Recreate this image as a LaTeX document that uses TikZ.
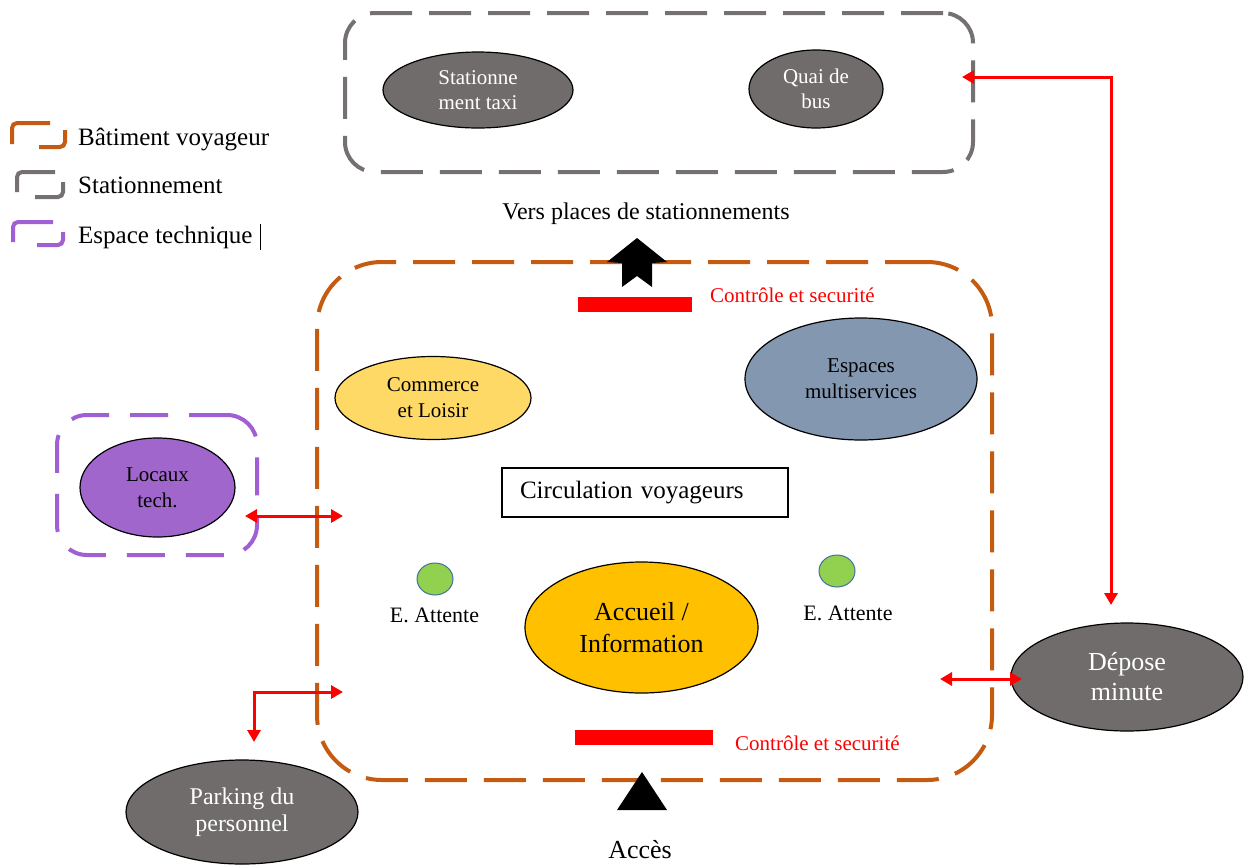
\documentclass[tikz,border=0pt]{standalone}
\usepackage{fontspec}
\setmainfont{Liberation Serif}
\usetikzlibrary{arrows.meta,shapes.geometric}

\definecolor{buildorange}{HTML}{C55A11}
\definecolor{parkgray}{HTML}{767171}
\definecolor{techpurple}{HTML}{A05FD2}
\definecolor{ovalgray}{HTML}{716C6C}
\definecolor{commerceyellow}{HTML}{FFD966}
\definecolor{serviceblue}{HTML}{8497B0}
\definecolor{techfill}{HTML}{A066CC}
\definecolor{accueilgold}{HTML}{FFC000}
\definecolor{waitgreen}{HTML}{92D050}
\definecolor{waitedge}{HTML}{41719C}

\newcommand{\setfs}[2]{\fontsize{#1}{#2}\selectfont}

\begin{document}
\begin{tikzpicture}[x=1pt,y=-1pt,
  zonebox/.style={draw, line width=4pt, rounded corners=#1, inner sep=0pt,
    dash pattern=on 42pt off 17pt},
  legendmark/.style={line width=4pt, rounded corners=5pt},
  oval/.style={ellipse, draw=black, line width=1.2pt, inner sep=0pt, align=center},
  darkoval/.style={oval, fill=ovalgray, text=white},
  waitspot/.style={ellipse, draw=waitedge, line width=1pt, fill=waitgreen,
    minimum width=36pt, minimum height=32pt, inner sep=0pt},
  link/.style={red, line width=3pt,
    {Triangle[length=12pt,width=13pt]}-{Triangle[length=12pt,width=13pt]}},
  redtext/.style={text=red, font=\setfs{21}{25}, inner sep=0pt},
  plain/.style={font=\setfs{25}{30}, inner sep=0pt}
]
\fill[white] (0,0) rectangle (1244,865);
\useasboundingbox (0,0) rectangle (1244,865);

% legend
\draw[legendmark, buildorange] (50,123) -- (12,123) -- (12,144);
\draw[legendmark, buildorange] (39,147) -- (65,147) -- (65,130);
\draw[legendmark, parkgray] (55,172) -- (17,172) -- (17,192);
\draw[legendmark, parkgray] (35,197) -- (63,197) -- (63,182);
\draw[legendmark, techpurple] (53,222) -- (13,222) -- (13,242);
\draw[legendmark, techpurple] (37,245) -- (63,245) -- (63,232);
\node[plain, anchor=base west] (legbuild) at (78,145) {Bâtiment voyageur};
\node[plain, anchor=base west] (legpark) at (78,193) {Stationnement};
\node[plain, anchor=base west] (legtech) at (78,243) {Espace technique};
\draw[line width=1pt] (260,224) -- (260,250);

% zones
\node[zonebox=30pt, draw=parkgray, minimum width=628pt, minimum height=159pt]
  (parkzone) at (659,92.5) {};
\node[zonebox=65pt, draw=buildorange, minimum width=675pt, minimum height=518pt]
  (buildzone) at (654.5,521) {};
\node[zonebox=30pt, draw=techpurple, dash pattern=on 38pt off 21pt,
  minimum width=200pt, minimum height=140pt] (techzone) at (157,485) {};

% parking ovals
\node[darkoval, minimum width=190pt, minimum height=76pt, font=\setfs{21}{25}]
  (taxi) at (478,90) {Stationne\\ment taxi};
\node[darkoval, minimum width=134pt, minimum height=78pt, font=\setfs{21}{25}]
  (bus) at (816,89) {Quai de\\bus};

\node[plain, font=\setfs{24}{28}, anchor=base] (vers) at (646,219) {Vers places de stationnements};

% exit arrow
\fill[black] (637,238) -- (667,262) -- (652,263) -- (652,287) -- (637,276)
  -- (622,287) -- (622,263) -- (607,262) -- cycle;

% checkpoints
\fill[red] (578,297) rectangle (692,312);
\node[redtext, anchor=base west] (ctrltop) at (710,302) {Contrôle et securité};
\fill[red] (575,730) rectangle (713,745);
\node[redtext, anchor=base west] (ctrlbot) at (735,750) {Contrôle et securité};

% building interior
\node[oval, fill=commerceyellow, minimum width=196pt, minimum height=83pt,
  font=\setfs{21}{26}] (commerce) at (433,398) {Commerce\\et Loisir};
\node[oval, fill=serviceblue, minimum width=232pt, minimum height=122pt,
  font=\setfs{21}{26}] (multi) at (861,379) {Espaces\\multiservices};
\node[draw=black, line width=1.2pt, minimum width=286pt, minimum height=49pt,
  text width=250pt, inner xsep=18pt, align=left, font=\setfs{25}{30}]
  (circ) at (645,492.5) {Circulation voyageurs};
\node[waitspot] (waitL) at (435,579) {};
\node[waitspot] (waitR) at (837,571) {};
\node[plain, font=\setfs{22}{26}, anchor=base] (waitLtxt) at (434.5,622) {E. Attente};
\node[plain, font=\setfs{22}{26}, anchor=base] (waitRtxt) at (848,620) {E. Attente};
\node[oval, fill=accueilgold, minimum width=233pt, minimum height=131pt,
  font=\setfs{26}{32}] (accueil) at (641.5,627.5) {Accueil /\\Information};

% entrance
\fill[black] (642,772) -- (667,810) -- (617,810) -- cycle;
\node[plain, font=\setfs{26}{30}, anchor=base] (acces) at (640,858) {Accès};

% technical rooms
\node[oval, fill=techfill, minimum width=155pt, minimum height=99pt,
  font=\setfs{21}{26}] (locaux) at (157.5,487.5) {Locaux\\tech.};

% outside ovals
\node[darkoval, minimum width=232pt, minimum height=108pt, font=\setfs{26}{30}]
  (depose) at (1127,677) {Dépose\\minute};
\node[darkoval, minimum width=232pt, minimum height=104pt, font=\setfs{24}{27}]
  (staff) at (242,812) {Parking du\\personnel};

% connectors
\coordinate (techA) at (245,516);
\coordinate (techB) at (343,516);
\draw[link] (techA) -- (techB);

\coordinate (depA) at (940,679);
\coordinate (depB) at (1022,679);
\draw[link] (depA) -- (depB);

\coordinate (busA) at (1111,605);
\coordinate (busB) at (962,77);
\draw[link] (busA) |- (busB);

\coordinate (staffA) at (343,692);
\coordinate (staffB) at (254,742);
\draw[link] (staffA) -| (staffB);
\end{tikzpicture}
\end{document}
